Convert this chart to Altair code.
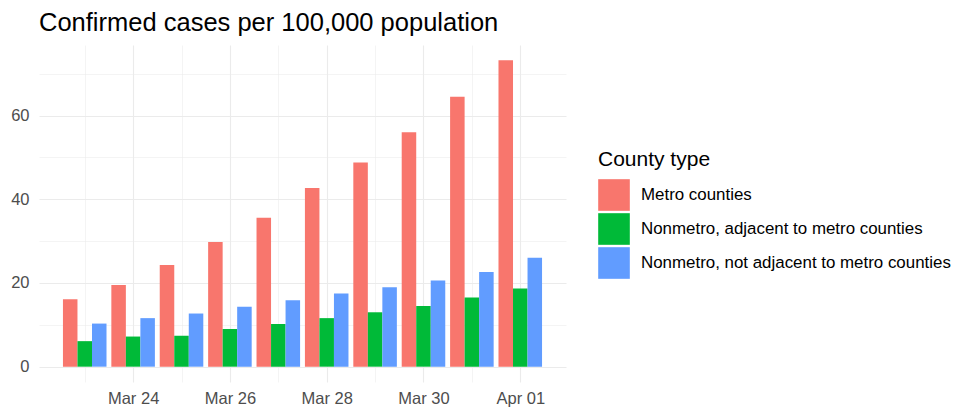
import json
import altair as alt
import pandas as pd

# ---- data ----
dates = ["Mar 23", "Mar 24", "Mar 25", "Mar 26", "Mar 27",
         "Mar 28", "Mar 29", "Mar 30", "Mar 31", "Apr 01"]
county_types = ["Metro counties",
                "Nonmetro, adjacent to metro counties",
                "Nonmetro, not adjacent to metro counties"]
metro = [16.1, 19.5, 24.3, 29.8, 35.6, 42.7, 48.8, 56.0, 64.5, 73.2]
adjacent = [6.1, 7.2, 7.4, 9.0, 10.2, 11.6, 13.0, 14.5, 16.5, 18.7]
not_adjacent = [10.3, 11.6, 12.7, 14.3, 15.9, 17.5, 19.0, 20.6, 22.6, 26.0]
colors = ["#F8766D", "#00BA38", "#619CFF"]
y_ticks = [0, 10, 20, 30, 40, 50, 60, 70]

series = [metro, adjacent, not_adjacent]
rows = []
for i, d in enumerate(dates):
    for k, t in enumerate(county_types):
        rows.append({"date": d, "day": i, "k": k, "type": t, "value": series[k][i]})
df = pd.DataFrame(rows)

FONT = "Liberation Sans"
label_expr_x = "datum.value % 2 == 1 ? " + json.dumps(dates) + "[datum.value] : ''"

base = alt.Chart(df).transform_calculate(
    x0="datum.day - 0.45 + datum.k * 0.3",
    x1="datum.day - 0.15 + datum.k * 0.3",
    zero="0",
)

bars = base.mark_bar().encode(
    x=alt.X("x0:Q",
            scale=alt.Scale(domain=[-0.945, 9.945], nice=False, zero=False),
            axis=alt.Axis(values=list(range(len(dates))), labelExpr=label_expr_x,
                          title=None, grid=True, gridColor="#EBEBEB",
                          gridWidth={"condition": {"test": "datum.value % 2 == 1", "value": 1.1},
                                     "value": 0.55},
                          ticks=False, domain=False, labelFontSize=16.5,
                          labelColor="#4D4D4D", labelFont=FONT, labelPadding=8)),
    x2="x1:Q",
    y=alt.Y("value:Q",
            scale=alt.Scale(domain=[-3.66, 76.86], nice=False, zero=False),
            axis=alt.Axis(values=y_ticks,
                          labelExpr="datum.value % 20 == 0 ? datum.label : ''",
                          title=None, grid=True, gridColor="#EBEBEB",
                          gridWidth={"condition": {"test": "datum.value % 20 == 0", "value": 1.1},
                                     "value": 0.55},
                          ticks=False, domain=False, labelFontSize=16.5,
                          labelColor="#4D4D4D", labelFont=FONT, labelPadding=10,
                          minExtent=34, maxExtent=34)),
    y2="zero:Q",
    color=alt.Color("type:N",
                    scale=alt.Scale(domain=county_types, range=colors),
                    legend=alt.Legend(title="County type", orient="none",
                                      legendX=559, legendY=104,
                                      symbolType="square", symbolSize=1000,
                                      symbolStrokeWidth=0, symbolOpacity=1,
                                      labelFontSize=16.9, titleFontSize=21,
                                      titleFontWeight="normal", labelFont=FONT,
                                      titleFont=FONT, labelColor="#000000",
                                      titleColor="#000000", labelOffset=11,
                                      labelLimit=0, titleLimit=0,
                                      titlePadding=9, rowPadding=2)),
)

chart = bars.properties(
    width=527,
    height=337,
    title=alt.TitleParams("Confirmed cases per 100,000 population",
                          anchor="start", frame="group", font=FONT, fontSize=25.5,
                          fontWeight="normal", color="#000000", offset=9),
    padding={"left": 5, "top": 10, "right": 5, "bottom": 5},
).configure_view(stroke=None)

chart.save("out.html", embed_options={"renderer": "svg", "actions": False})
